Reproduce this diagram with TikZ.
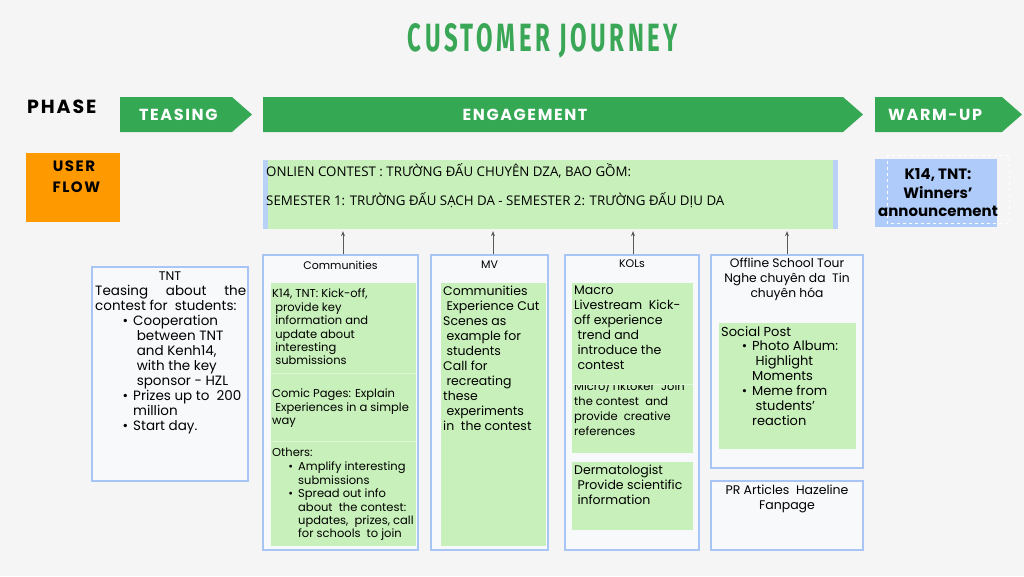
\documentclass[tikz,border=0pt]{standalone}
\usepackage{fontspec}
\setmainfont{Poppins}
\newfontfamily\vnfont{Open Sans}
\newfontfamily\hdfont[LetterSpace=10]{Poppins}
\newfontfamily\titlefont[LetterSpace=15]{Fira Sans}
\usepackage{tikz}
\usetikzlibrary{arrows.meta}

\definecolor{phasegreen}{HTML}{34A853}
\definecolor{titlegreen}{HTML}{3AA757}
\definecolor{boxgreen}{HTML}{C8F0BA}
\definecolor{sepgreen}{HTML}{DDF6D3}
\definecolor{edgeblue}{HTML}{A8C5F5}
\definecolor{winblue}{HTML}{AECBFA}
\definecolor{flowbox}{HTML}{FF9900}
\definecolor{colfill}{HTML}{F8F9FB}
\definecolor{backdrop}{HTML}{F5F5F6}

\newcommand{\bul}{\llap{\textbullet\hspace{5pt}}}

\begin{document}
\begin{tikzpicture}[x=1pt, y=-1pt,
        col/.style={draw=edgeblue, line width=1.5pt, fill=colfill, inner sep=0pt},
        inbox/.style={fill=boxgreen, inner sep=0pt},
        txt/.style={anchor=north west, align=left, inner sep=0pt},
        head/.style={inner sep=0pt, font=\fontsize{11}{15}\selectfont},
        phasetxt/.style={inner sep=0pt, text=white, font=\hdfont\bfseries\fontsize{16}{18}\selectfont},
        sepline/.style={sepgreen, line width=0.8pt},
        up/.style={-{Stealth[length=5pt,width=4pt]}, draw=black!65, line width=0.7pt, shorten >=2pt}
    ]
    \fill[backdrop] (0,0) rectangle (1024,576);

    \node[text=titlegreen] (title) at (543,41) {\resizebox{270pt}{28pt}{\titlefont\bfseries CUSTOMER JOURNEY}};

    % phases
    \node[anchor=west, inner sep=0pt, font=\hdfont\bfseries\fontsize{19}{20}\selectfont] (phase) at (27,107) {PHASE};
    \fill[phasegreen] (120,97) -- (232,97) -- (252,114.5) -- (232,132) -- (120,132) -- cycle;
    \fill[phasegreen] (263,97) -- (843,97) -- (863,114.5) -- (843,132) -- (263,132) -- cycle;
    \fill[phasegreen] (875,97) -- (1002,97) -- (1022,114.5) -- (1002,132) -- (875,132) -- cycle;
    \node[phasetxt, anchor=west] (tease) at (139,114.5) {TEASING};
    \node[phasetxt] (engage) at (525,114.5) {ENGAGEMENT};
    \node[phasetxt, anchor=west] (warm) at (888,114.5) {WARM-UP};

    % user flow row
    \node[fill=flowbox, minimum width=94pt, minimum height=69pt, inner sep=0pt] (flow) at (73,187.5) {};
    \node[align=center, inner sep=0pt, font=\hdfont\bfseries\fontsize{15}{21}\selectfont] (flowtxt) at (74,177) {USER\\\ FLOW};

    \node[fill=boxgreen, minimum width=575pt, minimum height=69pt, inner sep=0pt] (contest) at (550.5,194.5) {};
    \fill[edgeblue!80] (contest.north west) rectangle ([xshift=5]contest.south west);
    \fill[edgeblue!80] (contest.north east) rectangle ([xshift=-5]contest.south east);
    \node[txt, font=\vnfont\fontsize{13.3}{29}\selectfont] (contesttxt) at (266,163) {ONLIEN CONTEST : TRƯỜNG ĐẤU CHUYÊN DZA, BAO GỒM:\\SEMESTER 1: TRƯỜNG ĐẤU SẠCH DA - SEMESTER 2: TRƯỜNG ĐẤU DỊU DA};

    \node[fill=winblue, minimum width=122pt, minimum height=68pt, inner sep=0pt] (winner) at (936,193) {};
    \draw[white, dashed, line width=0.8pt] (887,155) rectangle (1009,223);
    \node[align=center, inner sep=0pt, font=\bfseries\fontsize{15}{18.5}\selectfont] (wintxt) at (938,193) {K14, TNT:\\Winners’\\announcement};

    % teasing column
    \node[col, minimum width=156pt, minimum height=214pt] (tnt) at (170,374) {};
    \node[inner sep=0pt, font=\fontsize{12.5}{15}\selectfont] (tnthead) at (170,276) {TNT};
    \node[txt, font=\fontsize{13.5}{15}\selectfont] (tnttext) at (95,285) {\makebox[151pt][s]{Teasing about the}\\contest for~ students:};
    \node[txt, font=\fontsize{13.5}{15}\selectfont] (tntlist) at (133,315) {\bul Cooperation\\\ between TNT\\\ and Kenh14,\\\ with the key\\\ sponsor - HZL\\\bul Prizes up to~ 200\\million\\\bul Start day.};

    % engagement columns
    \node[col, minimum width=155pt, minimum height=295pt] (comm) at (340.5,402.5) {};
    \node[inbox, minimum width=145pt, minimum height=263pt] (commin) at (343.5,414.5) {};
    \draw[sepline] (271,373) -- (416,373);
    \draw[sepline] (271,441) -- (416,441);
    \node[head] (commhead) at (340.5,265) {Communities};
    \node[txt, font=\fontsize{11.5}{13.4}\selectfont] (commtxt) at (272,289) {K14, TNT: Kick-off,\\\ provide key\\\ information and\\\ update about\\\ interesting\\\ submissions};
    \node[txt, font=\fontsize{11.5}{13.4}\selectfont] (comictxt) at (272,389) {Comic Pages: Explain\\\ Experiences in a simple\\way};
    \node[txt, font=\fontsize{11.5}{13.4}\selectfont] (othtxt) at (272,448) {Others:};
    \node[txt, font=\fontsize{11.5}{13.4}\selectfont] (othlist) at (298,462) {\bul Amplify interesting\\submissions\\\bul Spread out info\\about~ the contest:\\updates,~ prizes, call\\for schools~ to join};

    \node[col, minimum width=117pt, minimum height=295pt] (mv) at (489.5,402.5) {};
    \node[inbox, minimum width=105pt, minimum height=263pt] (mvin) at (493.5,414.5) {};
    \node[head] (mvhead) at (489.5,265) {MV};
    \node[txt, font=\fontsize{12.5}{15}\selectfont] (mvtxt) at (443,286) {Communities\\\ Experience Cut\\Scenes as\\\ example for\\\ students\\Call for\\\ recreating\\these\\\ experiments\\in~ the contest};

    \node[col, minimum width=134pt, minimum height=295pt] (kols) at (632,402.5) {};
    \node[inbox, minimum width=121pt, minimum height=72pt] (microin) at (632.5,417) {};
    \node[txt, font=\fontsize{11.5}{15}\selectfont] (microtxt) at (574,379.5) {Micro/Tiktoker~ Join\\the contest~ and\\provide~ creative\\references};
    \node[inbox, minimum width=121pt, minimum height=101pt] (macroin) at (632.5,333.5) {};
    \draw[sepline] (572,384) -- (693,384);
    \node[inbox, minimum width=121pt, minimum height=68pt] (dermin) at (632.5,496) {};
    \node[head] (kolhead) at (632,264) {KOLs};
    \node[txt, font=\fontsize{12.5}{15}\selectfont] (macrotxt) at (574,286) {Macro\\Livestream~ Kick-\\off experience\\\ trend and\\\ introduce the\\\ contest};
    \node[txt, font=\fontsize{12.5}{15}\selectfont] (dermtxt) at (574,465) {Dermatologist\\\ Provide scientific\\\ information};

    \node[col, minimum width=152pt, minimum height=213pt] (tour) at (787,361.5) {};
    \node[inbox, minimum width=137pt, minimum height=126pt] (tourin) at (787.5,386) {};
    \node[anchor=north, align=center, inner sep=0pt, font=\fontsize{12.3}{15}\selectfont] (tourhead) at (787,258) {Offline School Tour\\Nghe chuyên da~ Tin\\chuyên hóa};
    \node[txt, font=\fontsize{13}{15}\selectfont] (socialtxt) at (721,326) {Social Post};
    \node[txt, font=\fontsize{13}{15}\selectfont] (sociallist) at (752,341) {\bul Photo Album:\\\ Highlight\\Moments\\\bul Meme from\\\ students’\\reaction};

    \node[col, minimum width=152pt, minimum height=69pt] (pr) at (787,515.5) {};
    \node[anchor=north, align=center, inner sep=0pt, font=\fontsize{12.5}{15}\selectfont] (prtxt) at (787,485) {PR Articles~ Hazeline\\Fanpage};

    % arrows up to the contest
    \draw[up] ([xshift=2.5]comm.north) -- ([xshift=2.5]comm.north |- contest.south);
    \draw[up] ([xshift=3.5]mv.north) -- ([xshift=3.5]mv.north |- contest.south);
    \draw[up] ([xshift=1]kols.north) -- ([xshift=1]kols.north |- contest.south);
    \draw[up] (tour.north) -- (tour.north |- contest.south);
\end{tikzpicture}
\end{document}
